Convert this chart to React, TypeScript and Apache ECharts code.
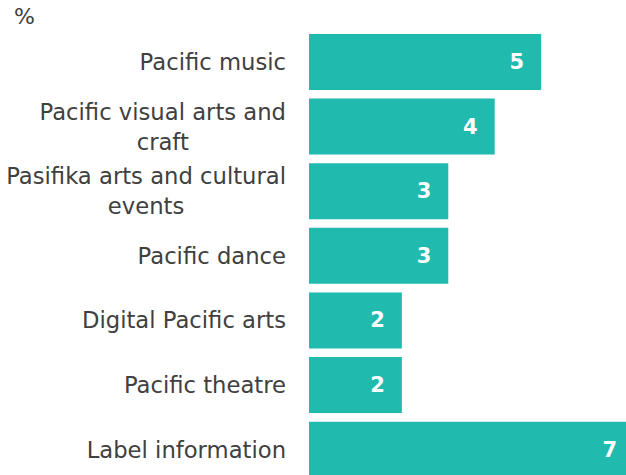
import React, { useEffect, useRef } from "react";
import * as echarts from "echarts";

const categories = [
  "Pacific music",
  "Pacific visual arts and\ncraft",
  "Pasifika arts and cultural\nevents",
  "Pacific dance",
  "Digital Pacific arts",
  "Pacific theatre",
  "Label information",
];
const values = [5, 4, 3, 3, 2, 2, 7];
const unitLabel = "%";

const FONT = "DejaVu Sans";

export default function App() {
  const ref = useRef<HTMLDivElement>(null);
  useEffect(() => {
    if (!ref.current) return;
    const chart = echarts.init(ref.current, null, { renderer: "svg" });
    chart.setOption({
      animation: false,
      title: {
        text: unitLabel,
        left: 9,
        top: 0,
        textStyle: { fontFamily: FONT, fontSize: 22, fontWeight: "normal", color: "#404040" },
      },
      grid: { left: 309, right: 0, top: 29.7, bottom: 0, containLabel: false },
      xAxis: {
        type: "value",
        min: 0,
        max: 7,
        show: false,
      },
      yAxis: {
        type: "category",
        inverse: true,
        data: categories,
        axisLine: { show: false },
        axisTick: { show: false },
        splitLine: { show: false },
        axisLabel: {
          margin: 23,
          fontFamily: FONT,
          fontSize: 22.7,
          color: "#404040",
          lineHeight: 30,
          formatter: (v: string) =>
            v
              .split("\n")
              .map((l) => `{c|${l}}`)
              .join("\n"),
          rich: {
            c: { align: "center", fontFamily: FONT, fontSize: 22.7, color: "#404040", lineHeight: 30 },
          },
        },
      },
      series: [
        {
          type: "bar",
          data: values,
          barWidth: 56,
          itemStyle: { color: "#20BAAE" },
          label: {
            show: true,
            position: "insideRight",
            distance: 17,
            color: "#ffffff",
            fontFamily: FONT,
            fontWeight: "bold",
            fontSize: 21,
          },
        },
      ],
    });
    return () => chart.dispose();
  }, []);
  return (
    <div
      ref={ref}
      style={{ position: "fixed", left: 0, top: 0, width: 634, height: 482, background: "#fff" }}
    />
  );
}
